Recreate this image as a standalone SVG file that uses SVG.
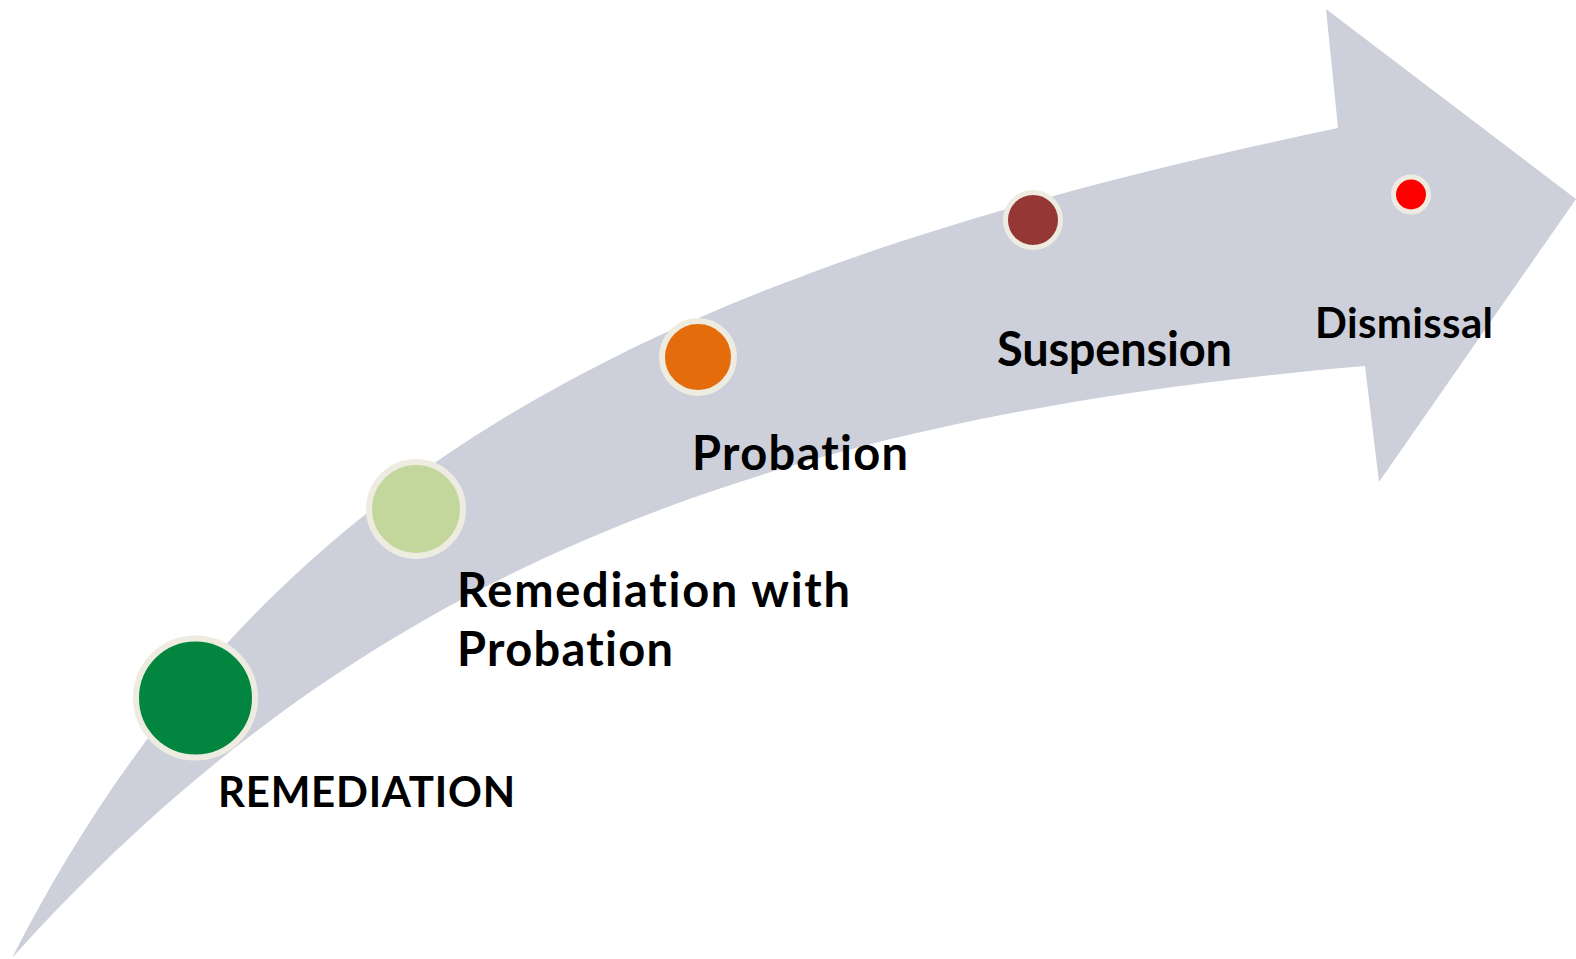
<svg xmlns="http://www.w3.org/2000/svg" width="1576" height="959" viewBox="0 0 1576 959">
<style>
.lbl{font-family:Lato,"Open Sans","Liberation Sans",sans-serif;font-weight:bold;fill:#000;font-variant-ligatures:none;font-feature-settings:"liga" 0,"clig" 0}
.big{font-size:47px}
.small{font-size:42px}
.dot{stroke:#EEECE1}
</style>
<rect width="1576" height="959" fill="#fff"/>
<g id="arrow">
<path d="M12,958 C262,468 653,272 1338,128 L1326,9 L1576,199 L1379,482 L1365,366 C767,417 359,571 12,958 Z" fill="#CDD0DA"/>
</g>
<g id="n1"><circle class="dot" cx="195.5" cy="698" r="59.5" stroke-width="6" fill="#02863F"/><text class="lbl small" x="218" y="807" textLength="297">REMEDIATION</text></g>
<g id="n2"><circle class="dot" cx="416" cy="509" r="47" stroke-width="6" fill="#C3D69B"/><text class="lbl big" x="457" y="607" textLength="393">Remediation with</text><text class="lbl big" x="457" y="666" textLength="216">Probation</text></g>
<g id="n3"><circle class="dot" cx="698" cy="357" r="36" stroke-width="6" fill="#E46C0A"/><text class="lbl big" x="692" y="470" textLength="216">Probation</text></g>
<g id="n4"><circle class="dot" cx="1033" cy="220" r="27.5" stroke-width="5" fill="#953735"/><text class="lbl big" x="997" y="366" textLength="235">Suspension</text></g>
<g id="n5"><circle class="dot" cx="1411" cy="194.5" r="17.5" stroke-width="5" fill="#FF0000"/><text class="lbl small" x="1315" y="338" textLength="178">Dismissal</text></g>
<g id="connectors"></g>
</svg>
